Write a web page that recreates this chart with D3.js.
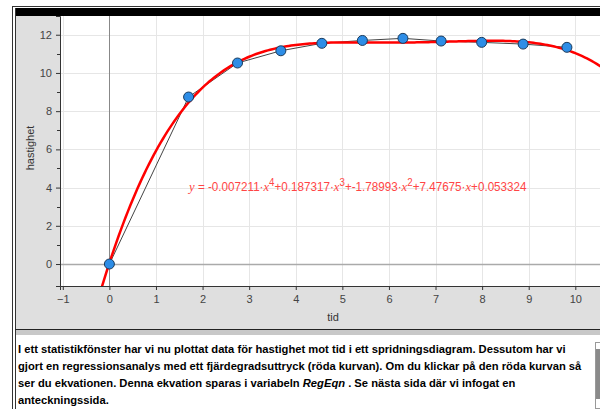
<!DOCTYPE html>
<html>
<head>
<meta charset="utf-8">
<script src="https://cdn.jsdelivr.net/npm/d3@7"></script>
<style>
  body { margin: 0; background: #fff; }
  svg { display: block; }
  .tick text { font-family: "Liberation Sans", Arial, sans-serif; font-size: 11px; fill: #444; }
</style>
</head>
<body>
<svg id="chart" width="600" height="409"></svg>
<script>
// scatter data (tid, hastighet)
const tid = [0, 1.70, 2.75, 3.68, 4.56, 5.43, 6.30, 7.12, 7.99, 8.88, 9.82];
const hastighet = [0, 8.74, 10.52, 11.16, 11.55, 11.70, 11.81, 11.67, 11.60, 11.51, 11.34];

// regression coefficients, highest degree first
const coeffs = [-0.007211, 0.187317, -1.78993, 7.47675, 0.053324];

const xTicks = [-1, 0, 1, 2, 3, 4, 5, 6, 7, 8, 9, 10];
const yTicks = [0, 2, 4, 6, 8, 10, 12];
const yMinor = [1, 3, 5, 7, 9, 11];

const textLines = [
  [{t: "I ett statistikfönster har vi nu plottat data för hastighet mot tid i ett spridningsdiagram. Dessutom har vi"}],
  [{t: "gjort en regressionsanalys med ett fjärdegradsuttryck (röda kurvan). Om du klickar på den röda kurvan så"}],
  [{t: "ser du ekvationen. Denna ekvation sparas i variabeln "}, {t: "RegEqn", i: true}, {t: " . Se nästa sida där vi infogat en"}],
  [{t: "anteckningssida."}]
];

const svg = d3.select('#chart');
const plot = {left: 60, top: 16, right: 600, bottom: 286};

const xScale = d3.scaleLinear().domain([-1.06, 10.53]).range([plot.left, plot.right]);
const yScale = d3.scaleLinear().domain([-1.15, 12.98]).range([plot.bottom, plot.top]);

// window frame
svg.append('rect').attr('x', 12.5).attr('y', 6.5).attr('width', 600).attr('height', 420)
    .attr('fill', 'none').attr('stroke', '#333');
svg.append('rect').attr('x', 15).attr('y', 8).attr('width', 600).attr('height', 8).attr('fill', '#000');
svg.append('rect').attr('x', 16).attr('y', 16).attr('width', 590).attr('height', 313).attr('fill', '#dfdfdf');
svg.append('line').attr('x1', 15.5).attr('x2', 15.5).attr('y1', 8).attr('y2', 409).attr('stroke', '#333');

// plot background
svg.append('rect').attr('x', plot.left).attr('y', plot.top)
    .attr('width', plot.right - plot.left).attr('height', plot.bottom - plot.top).attr('fill', '#fff');

const g = svg.append('g');

// grid
g.selectAll('.vgrid').data(xTicks).join('line')
    .attr('x1', d => Math.round(xScale(d)) + 0.5).attr('x2', d => Math.round(xScale(d)) + 0.5)
    .attr('y1', plot.top).attr('y2', plot.bottom)
    .attr('stroke', '#e6e6e6');
g.selectAll('.hgrid').data(yTicks).join('line')
    .attr('y1', d => Math.round(yScale(d)) + 0.5).attr('y2', d => Math.round(yScale(d)) + 0.5)
    .attr('x1', plot.left).attr('x2', plot.right)
    .attr('stroke', '#e6e6e6');

// zero axes
g.append('line')
    .attr('x1', Math.round(xScale(0)) + 0.5).attr('x2', Math.round(xScale(0)) + 0.5)
    .attr('y1', plot.top).attr('y2', plot.bottom).attr('stroke', '#888');
g.append('line')
    .attr('y1', Math.round(yScale(0)) + 0.5).attr('y2', Math.round(yScale(0)) + 0.5)
    .attr('x1', plot.left).attr('x2', plot.right).attr('stroke', '#aaa').attr('stroke-width', 1.5);

// axes
const xAxis = d3.axisBottom(xScale).tickValues(xTicks).tickSize(4).tickPadding(5)
    .tickFormat(d => d < 0 ? '\u2212' + Math.abs(d) : d);
svg.append('g').attr('transform', `translate(0,${plot.bottom})`).call(xAxis)
    .call(a => a.select('.domain').attr('stroke', '#333'))
    .call(a => a.selectAll('.tick line').attr('stroke', '#333'));

const yAxis = d3.axisLeft(yScale).tickValues(yTicks).tickSize(4).tickPadding(4);
svg.append('g').attr('transform', `translate(${plot.left},0)`).call(yAxis)
    .call(a => a.select('.domain').attr('stroke', '#333'))
    .call(a => a.selectAll('.tick line').attr('stroke', '#333'));
svg.append('g').selectAll('line').data(yMinor).join('line')
    .attr('x1', plot.left - 3).attr('x2', plot.left)
    .attr('y1', d => Math.round(yScale(d)) + 0.5).attr('y2', d => Math.round(yScale(d)) + 0.5)
    .attr('stroke', '#333');

// axis titles
svg.append('text').attr('x', 333).attr('y', 321)
    .attr('text-anchor', 'middle')
    .style('font-family', '"Liberation Sans", Arial, sans-serif').style('font-size', '11px').style('fill', '#333')
    .text('tid');
svg.append('text')
    .attr('transform', `translate(34,${(plot.top + plot.bottom) / 2 - 3}) rotate(-90)`)
    .attr('text-anchor', 'middle')
    .style('font-family', '"Liberation Sans", Arial, sans-serif').style('font-size', '11px').style('fill', '#333')
    .text('hastighet');

// clip
svg.append('clipPath').attr('id', 'clip').append('rect')
    .attr('x', plot.left).attr('y', plot.top)
    .attr('width', plot.right - plot.left).attr('height', plot.bottom - plot.top);
const inner = svg.append('g').attr('clip-path', 'url(#clip)');

// connecting line
const pts = tid.map((t, i) => ({x: t, y: hastighet[i]}));
inner.append('path').datum(pts)
    .attr('fill', 'none').attr('stroke', '#444').attr('stroke-width', 1)
    .attr('d', d3.line().x(d => xScale(d.x)).y(d => yScale(d.y)));

// regression curve
const poly = x => coeffs.reduce((acc, c) => acc * x + c, 0);
const curveX = d3.range(-0.3, 10.8, 0.05);
inner.append('path').datum(curveX)
    .attr('fill', 'none').attr('stroke', '#ff0000').attr('stroke-width', 2.5)
    .attr('d', d3.line().x(d => xScale(d)).y(d => yScale(poly(d))));

// points
inner.selectAll('.point').data(pts).join('circle')
    .attr('class', 'point')
    .attr('cx', d => xScale(d.x)).attr('cy', d => yScale(d.y)).attr('r', 5)
    .attr('fill', '#2d8de6').attr('stroke', '#1b3b5c').attr('stroke-width', 1);

// equation label
const eq = svg.append('text').attr('x', xScale(1.71)).attr('y', yScale(3.8))
    .style('font-family', '"Liberation Sans", Arial, sans-serif').style('font-size', '12px').style('fill', '#ff4545');
const ital = s => eq.append('tspan').style('font-family', '"Liberation Serif", serif').style('font-style', 'italic').style('font-size', '13px').text(s);
const plain = s => eq.append('tspan').text(s);
const sup = s => eq.append('tspan').attr('dy', -5).style('font-size', '10px').text(s);
const down = s => eq.append('tspan').attr('dy', 5).text(s);
ital('y');
plain(' = ' + coeffs[0] + '\u00b7');
ital('x'); sup('4');
down('+' + coeffs[1] + '\u00b7');
ital('x'); sup('3');
down('+' + coeffs[2] + '\u00b7');
ital('x'); sup('2');
down('+' + coeffs[3] + '\u00b7');
ital('x');
plain('+' + coeffs[4]);
// fit to the width seen in the reference (~340px)
const eqW = eq.node().getBBox().width;
eq.attr('transform', `translate(${xScale(1.71)},0) scale(${340 / eqW},1) translate(${-xScale(1.71)},0)`);

// text panel
svg.append('line').attr('x1', 15).attr('x2', 600).attr('y1', 329.5).attr('y2', 329.5).attr('stroke', '#222');
svg.append('rect').attr('x', 16).attr('y', 330).attr('width', 590).attr('height', 5).attr('fill', '#c8c8c8');
svg.append('rect').attr('x', 16).attr('y', 335).attr('width', 579).attr('height', 74).attr('fill', '#fff');

const tp = svg.append('g')
    .style('font-family', '"Liberation Sans", Arial, sans-serif').style('font-weight', 'bold')
    .style('font-size', '11px').style('fill', '#000');
const texts = textLines.map((line, i) => {
  const t = tp.append('text').attr('x', 18).attr('y', 353 + i * 17);
  line.forEach(seg => {
    const s = t.append('tspan').text(seg.t);
    if (seg.i) s.style('font-style', 'italic');
  });
  return t;
});
// pick font size so the first line spans like the reference (~548px)
const w0 = texts[0].node().getComputedTextLength();
tp.style('font-size', (11 * 548 / w0).toFixed(2) + 'px');

// scrollbar
svg.append('rect').attr('x', 595.5).attr('y', 342.5).attr('width', 6).attr('height', 66).attr('fill', '#fff').attr('stroke', '#999');
svg.append('rect').attr('x', 596).attr('y', 349).attr('width', 5).attr('height', 50).attr('fill', '#8a8a8a');
</script>
</body>
</html>
